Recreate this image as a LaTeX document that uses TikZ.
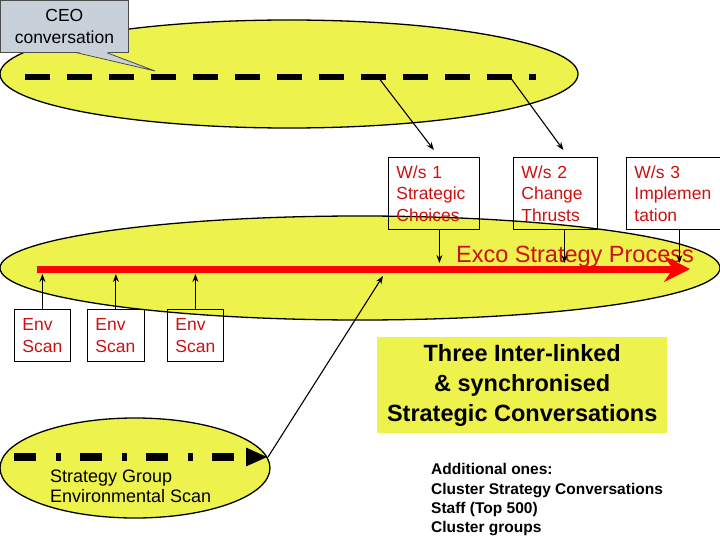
\documentclass[tikz,border=0pt]{standalone}
\usepackage{fontspec}
\setmainfont{Liberation Sans}
\usetikzlibrary{arrows.meta,calc}
\usepackage{xcolor}
\definecolor{ovalyellow}{RGB}{238,242,76}
\definecolor{labelred}{RGB}{204,16,16}
\definecolor{calloutgrey}{RGB}{200,209,218}
\tikzset{
  wsbox/.style={draw, line width=0.8pt, anchor=north west, align=left, inner xsep=8pt, inner ysep=0pt,
    text=labelred, font=\fontsize{17.5}{21.5}\selectfont},
  conn/.style={line width=1.1pt, -{Stealth[length=8pt,width=6pt]}},
  oval/.style={draw, line width=1.3pt, fill=ovalyellow}
}
\begin{document}
\begin{tikzpicture}[x=1pt,y=-1pt]
\useasboundingbox (0,0) rectangle (720,540);

\draw[oval] (289,74) ellipse [x radius=289pt, y radius=54pt];
\coordinate (dashL) at (25,77);
\coordinate (dashR) at (536,77);
\draw[line width=6pt, dash pattern=on 25pt off 17pt] (dashL) -- (dashR);
\coordinate (tapA) at (378,77);
\coordinate (tapB) at (510,77);

\node[draw=black!70, fill=calloutgrey, line width=0.8pt, anchor=north west, minimum width=128pt, minimum height=52pt,
  align=center, font=\fontsize{17.5}{21.5}\selectfont] (ceo) at (0,0) {CEO\\conversation};
\coordinate (ceotip) at (155,71);
\fill[calloutgrey] ([xshift=77pt,yshift=0.8pt]ceo.south west) -- (ceotip) -- ([xshift=107pt,yshift=0.8pt]ceo.south west) -- cycle;
\draw[black!70, line width=0.8pt] ([xshift=77pt]ceo.south west) -- (ceotip) -- ([xshift=107pt]ceo.south west);

\draw[oval] (360,268) ellipse [x radius=360pt, y radius=52pt];
\coordinate (exL) at (37,269);
\coordinate (exR) at (690,269);
\node[font=\fontsize{23.5}{28}\selectfont, text=labelred, anchor=base] (exco) at (575,262) {Exco Strategy Process};
\draw[red, line width=7pt, -{Stealth[length=26pt,width=26pt,inset=9pt]}] (exL) -- (exR);

\node[wsbox, text width=75pt, minimum height=72pt] (ws1) at (388,157) {W/s 1\\Strategic\\Choices};
\node[wsbox, text width=68pt, minimum height=72pt] (ws2) at (513,157) {W/s 2\\Change\\Thrusts};
\node[wsbox, text width=90pt, minimum height=72pt] (ws3) at (626,157) {W/s 3\\Implemen\\tation};

\draw[conn] (tapA) -- ([yshift=7pt]ws1.north);
\draw[conn] (tapB) -- ([xshift=8pt,yshift=7pt]ws2.north);
\draw[conn, shorten >=6pt] ([xshift=5.5pt]ws1.south) -- ([xshift=5.5pt]ws1.south |- exL);
\draw[conn, shorten >=6pt] ([xshift=9pt]ws2.south) -- ([xshift=9pt]ws2.south |- exL);
\draw[conn, shorten >=6pt] (ws3.south) -- (ws3.south |- exL);

% strategy group scan
\draw[oval] (135,468) ellipse [x radius=135pt, y radius=50pt];
\coordinate (sgL) at (14,457);
\coordinate (sgR) at (268,457);
\draw[line width=7.5pt, dash pattern=on 22pt off 20pt on 5pt off 19pt, -{Triangle[length=22pt,width=17pt]}] (sgL) -- (sgR);
\node[anchor=north west, align=left, inner sep=0pt, font=\fontsize{18}{20}\selectfont] (sgtext) at (50,470)
  {Strategy Group\\Environmental Scan};
\coordinate (exTap) at (383,276);
\draw[conn] (sgR) -- (exTap);

\node[wsbox, text width=40pt, minimum height=52pt] (env1) at (14,309) {Env\\Scan};
\node[wsbox, text width=41pt, minimum height=52pt] (env2) at (87,309) {Env\\Scan};
\node[wsbox, text width=40pt, minimum height=52pt] (env3) at (167,309) {Env\\Scan};
\foreach \e in {env1,env2,env3}
  \draw[conn, shorten >=5pt] (\e.north) -- (\e.north |- exL);

\node[fill=ovalyellow, anchor=north west, minimum width=290pt, minimum height=96pt, align=center,
  font=\bfseries\fontsize{23.5}{30}\selectfont] (threeconv) at (377,337)
  {Three Inter-linked\\\& synchronised\\Strategic Conversations};

\node[anchor=north west, align=left, inner sep=0pt, font=\bfseries\fontsize{15.5}{19.3}\selectfont] (extra) at (431,463.5)
  {Additional ones:\\Cluster Strategy Conversations\\Staff (Top 500)\\Cluster groups};
\end{tikzpicture}
\end{document}
